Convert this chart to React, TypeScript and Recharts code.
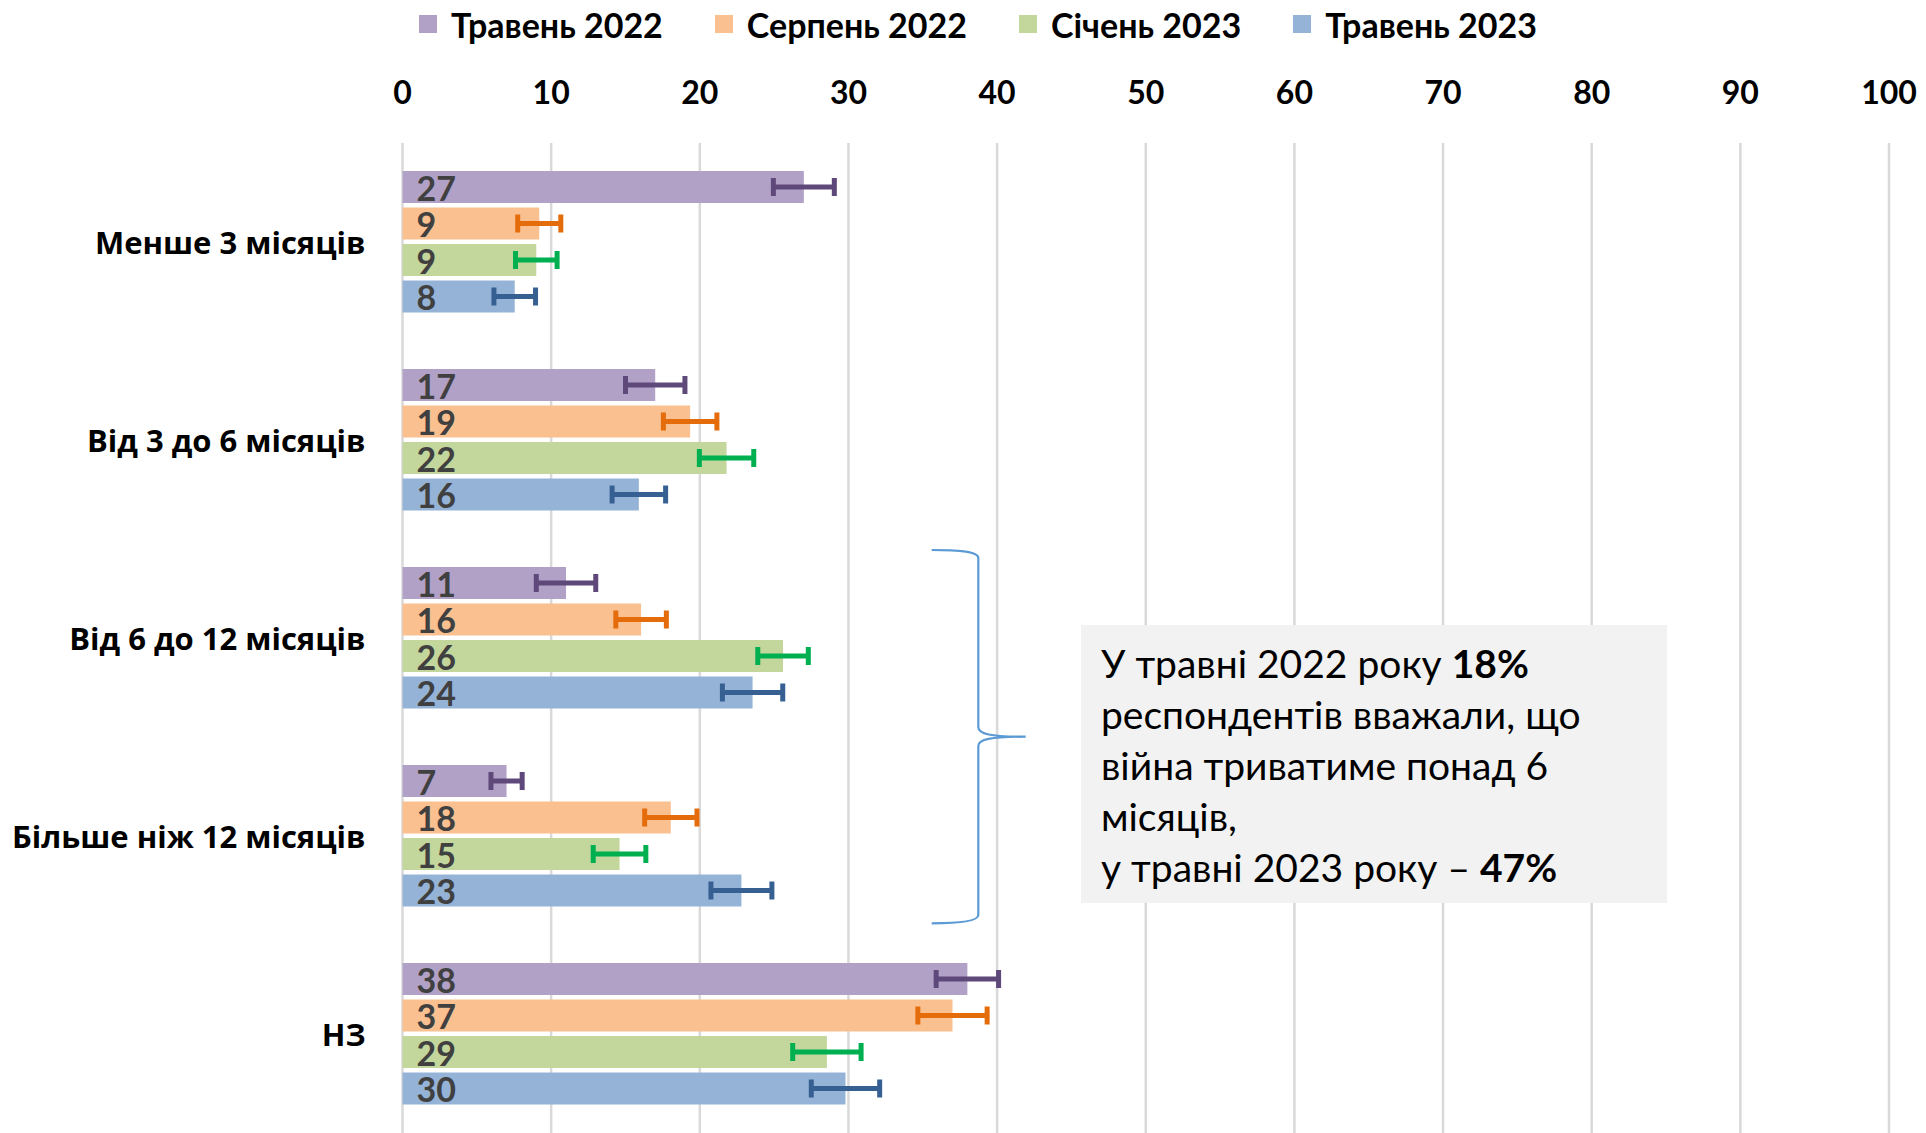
import React from 'react';
import { BarChart, Bar, XAxis, YAxis, CartesianGrid, ErrorBar, LabelList } from 'recharts';

const categories = ['Менше 3 місяців', 'Від 3 до 6 місяців', 'Від 6 до 12 місяців', 'Більше ніж 12 місяців', 'НЗ'];
const seriesNames = ['Травень 2022', 'Серпень 2022', 'Січень 2023', 'Травень 2023'];

const may2022 = [27.0, 17.0, 11.0, 7.0, 38.0];
const may2022Err = [2.05, 2.0, 2.0, 1.05, 2.1];
const may2022Labels = ['27', '17', '11', '7', '38'];

const aug2022 = [9.2, 19.35, 16.05, 18.05, 37.0];
const aug2022Err = [1.45, 1.8, 1.7, 1.76, 2.33];
const aug2022Labels = ['9', '19', '16', '18', '37'];

const jan2023 = [9.0, 21.8, 25.6, 14.6, 28.55];
const jan2023Err = [1.4, 1.83, 1.7, 1.77, 2.3];
const jan2023Labels = ['9', '22', '26', '15', '29'];

const may2023 = [7.55, 15.9, 23.55, 22.8, 29.8];
const may2023Err = [1.4, 1.8, 2.03, 2.05, 2.3];
const may2023Labels = ['8', '16', '24', '23', '30'];

const xTicks = [0, 10, 20, 30, 40, 50, 60, 70, 80, 90, 100];

const fillColors = ['#B2A1C7', '#FAC090', '#C3D69B', '#95B3D7'];
const errColors = ['#5F497A', '#E46C0A', '#00B050', '#376092'];

const keys = ['s0', 's1', 's2', 's3'];

const data = categories.map((cat, i) => ({
  cat,
  s0: may2022[i], e0: may2022Err[i], l0: may2022Labels[i],
  s1: aug2022[i], e1: aug2022Err[i], l1: aug2022Labels[i],
  s2: jan2023[i], e2: jan2023Err[i], l2: jan2023Labels[i],
  s3: may2023[i], e3: may2023Err[i], l3: may2023Labels[i],
}));

const CAL = 'Lato, Carlito, "Open Sans", sans-serif';

const XTick = (props: any) => {
  const { x, y, payload } = props;
  return (
    <text x={x} y={y} textAnchor="middle" fontFamily={CAL} fontWeight={700} fontSize={32} fill="#000">
      {payload.value}
    </text>
  );
};

const YTick = (props: any) => {
  const { x, y, payload } = props;
  return (
    <text x={x} y={y} textAnchor="end" dominantBaseline="central" fontFamily='"Open Sans", sans-serif' fontWeight={700} fontSize={31} fill="#000">
      {payload.value}
    </text>
  );
};

const makeLabel = (labels: string[]) => (props: any) => {
  const { x, y, height, index } = props;
  return (
    <text x={x + 14} y={y + height / 2} dominantBaseline="central" fontFamily={CAL} fontWeight={700} fontSize={34} fill="#404040">
      {labels[index]}
    </text>
  );
};

const labelSets = [may2022Labels, aug2022Labels, jan2023Labels, may2023Labels];

export default function App() {
  return (
    <div style={{ position: 'absolute', left: 0, top: 0, width: 1926, height: 1133, background: '#fff', overflow: 'hidden' }}>
      {/* Legend */}
      <div style={{ position: 'absolute', left: 0, top: 1, width: 1926, height: 46, display: 'flex', justifyContent: 'center', alignItems: 'center', fontFamily: CAL, fontWeight: 700, fontSize: 34, color: '#000' }}>
        <div style={{ display: 'flex', alignItems: 'center', marginLeft: 30 }}>
          {seriesNames.map((n, i) => (
            <div key={n} style={{ display: 'flex', alignItems: 'center', marginRight: i < 3 ? 52 : 0 }}>
              <div style={{ width: 18, height: 18, background: fillColors[i], marginRight: 14 }} />
              <span>{n}</span>
            </div>
          ))}
        </div>
      </div>
      <BarChart
        layout="vertical"
        width={1926}
        height={1133}
        data={data}
        margin={{ top: 113, right: 37, bottom: 0, left: 0 }}
        barSize={32}
        barGap={4.5}
      >
        <CartesianGrid horizontal={false} vertical={true} stroke="#D9D9D9" strokeWidth={2.5} />
        <XAxis
          type="number"
          orientation="top"
          domain={[0, 100]}
          ticks={xTicks}
          height={30}
          axisLine={false}
          tickLine={false}
          tickSize={0}
          tickMargin={39}
          tick={<XTick />}
          interval={0}
        />
        <YAxis
          type="category"
          dataKey="cat"
          width={402.5}
          axisLine={false}
          tickLine={false}
          tickSize={0}
          tickMargin={37}
          tick={<YTick />}
          interval={0}
        />
        {keys.map((k, i) => (
          <Bar key={k} dataKey={k} name={seriesNames[i]} fill={fillColors[i]} isAnimationActive={false}>
            <LabelList dataKey={`l${i}`} content={makeLabel(labelSets[i])} />
            <ErrorBar dataKey={`e${i}`} direction="x" width={9} strokeWidth={5} stroke={errColors[i]} isAnimationActive={false} />
          </Bar>
        ))}
      </BarChart>
      {/* Brace */}
      <svg style={{ position: 'absolute', left: 0, top: 0 }} width={1926} height={1133} pointerEvents="none">
        <path
          d="M931.7,550 C955,550 978.3,551 978.3,558 L978.3,727 C978.3,734 990,736.7 1025.7,736.7 C990,736.7 978.3,739.4 978.3,746 L978.3,915 C978.3,922 955,923.3 931.7,923.3"
          fill="none"
          stroke="#5B9BD5"
          strokeWidth={2.2}
        />
      </svg>
      {/* Annotation box */}
      <div style={{ position: 'absolute', left: 1080.5, top: 625, width: 586, height: 278, background: '#F2F2F2', boxSizing: 'border-box', padding: '12.9px 0 0 20.5px', fontFamily: CAL, fontSize: 39, lineHeight: '51px', color: '#000', whiteSpace: 'nowrap' }}>
        <div>У травні 2022 року <b>18%</b></div>
        <div>респондентів вважали, що</div>
        <div>війна триватиме понад 6</div>
        <div>місяців,</div>
        <div>у травні 2023 року – <b>47%</b></div>
      </div>
    </div>
  );
}
